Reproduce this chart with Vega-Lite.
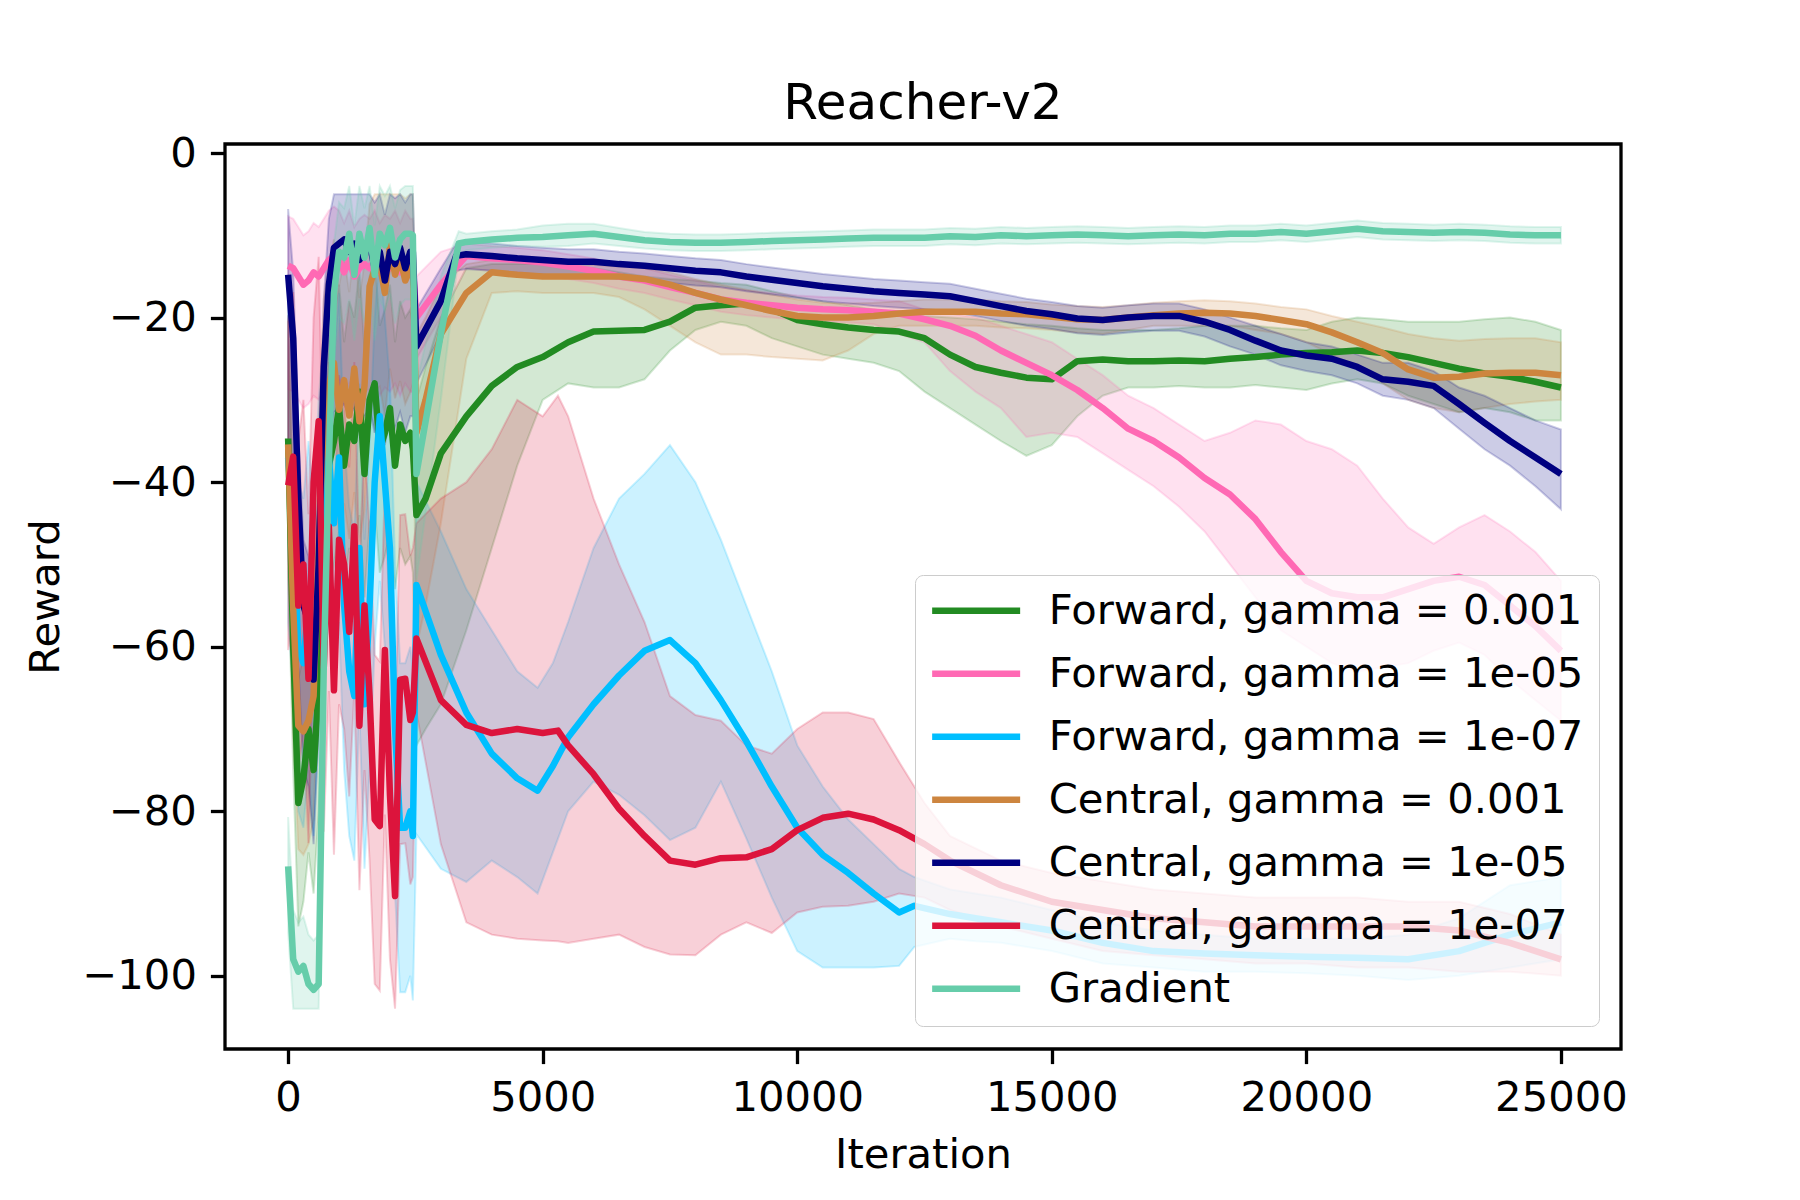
{
  "$schema": "https://vega.github.io/schema/vega-lite/v6.json",
  "width": 1396,
  "height": 905,
  "autosize": "none",
  "padding": {"left": 225, "top": 144, "right": 179, "bottom": 151},
  "background": "white",
  "title": {"text": "Reacher-v2", "fontSize": 50, "font": "DejaVu Sans", "fontWeight": "normal", "color": "black", "offset": 4, "anchor": "middle"},
  "data": {
    "values": [
      {"k":"F1","x":0,"y":-34.7,"lo":-49.7,"hi":-19.7},
      {"k":"F1","x":100,"y":-60,"lo":-75,"hi":-45},
      {"k":"F1","x":200,"y":-79,"lo":-94,"hi":-64},
      {"k":"F1","x":300,"y":-76,"lo":-91,"hi":-61},
      {"k":"F1","x":400,"y":-70,"lo":-85,"hi":-55},
      {"k":"F1","x":500,"y":-75,"lo":-90,"hi":-60},
      {"k":"F1","x":600,"y":-65,"lo":-80,"hi":-50},
      {"k":"F1","x":700,"y":-50,"lo":-65,"hi":-35},
      {"k":"F1","x":800,"y":-38,"lo":-53,"hi":-23},
      {"k":"F1","x":900,"y":-35,"lo":-50,"hi":-20},
      {"k":"F1","x":1000,"y":-31,"lo":-46,"hi":-16},
      {"k":"F1","x":1100,"y":-38,"lo":-53,"hi":-23},
      {"k":"F1","x":1200,"y":-33,"lo":-48,"hi":-18},
      {"k":"F1","x":1300,"y":-35,"lo":-50,"hi":-20},
      {"k":"F1","x":1400,"y":-29,"lo":-44,"hi":-14},
      {"k":"F1","x":1500,"y":-39,"lo":-54,"hi":-24},
      {"k":"F1","x":1600,"y":-30,"lo":-45,"hi":-15},
      {"k":"F1","x":1700,"y":-28,"lo":-43,"hi":-13},
      {"k":"F1","x":1800,"y":-36,"lo":-51,"hi":-21},
      {"k":"F1","x":1900,"y":-34,"lo":-49,"hi":-19},
      {"k":"F1","x":2000,"y":-31,"lo":-46,"hi":-16},
      {"k":"F1","x":2100,"y":-38,"lo":-53,"hi":-23},
      {"k":"F1","x":2200,"y":-33,"lo":-48,"hi":-18},
      {"k":"F1","x":2300,"y":-35,"lo":-50,"hi":-20},
      {"k":"F1","x":2400,"y":-34,"lo":-49,"hi":-19},
      {"k":"F1","x":2450,"y":-36,"lo":-51,"hi":-21},
      {"k":"F1","x":2520,"y":-44,"lo":-72,"hi":-30},
      {"k":"F1","x":2700,"y":-42,"lo":-70,"hi":-26},
      {"k":"F1","x":3000,"y":-36.5,"lo":-67,"hi":-20},
      {"k":"F1","x":3500,"y":-32,"lo":-58,"hi":-14},
      {"k":"F1","x":4000,"y":-28.3,"lo":-48,"hi":-13.5},
      {"k":"F1","x":4500,"y":-26,"lo":-38,"hi":-13.5},
      {"k":"F1","x":5000,"y":-24.8,"lo":-30,"hi":-13.5},
      {"k":"F1","x":5500,"y":-23,"lo":-28,"hi":-13.8},
      {"k":"F1","x":6000,"y":-21.7,"lo":-28.5,"hi":-14},
      {"k":"F1","x":6500,"y":-21.6,"lo":-28.5,"hi":-14.5},
      {"k":"F1","x":7000,"y":-21.5,"lo":-27.5,"hi":-15},
      {"k":"F1","x":7500,"y":-20.5,"lo":-24,"hi":-15.3},
      {"k":"F1","x":8000,"y":-18.8,"lo":-21.5,"hi":-15.5},
      {"k":"F1","x":8500,"y":-18.5,"lo":-20.5,"hi":-15.8},
      {"k":"F1","x":9000,"y":-18.3,"lo":-21,"hi":-16},
      {"k":"F1","x":9500,"y":-19,"lo":-22.5,"hi":-16.8},
      {"k":"F1","x":10000,"y":-20.3,"lo":-23.5,"hi":-17.5},
      {"k":"F1","x":10500,"y":-20.8,"lo":-24.5,"hi":-18},
      {"k":"F1","x":11000,"y":-21.2,"lo":-25,"hi":-18.5},
      {"k":"F1","x":11500,"y":-21.5,"lo":-25.5,"hi":-19},
      {"k":"F1","x":12000,"y":-21.7,"lo":-26.5,"hi":-19.5},
      {"k":"F1","x":12500,"y":-22.5,"lo":-29,"hi":-19.8},
      {"k":"F1","x":13000,"y":-24.5,"lo":-31,"hi":-20},
      {"k":"F1","x":13500,"y":-26,"lo":-33,"hi":-20.2},
      {"k":"F1","x":14000,"y":-26.7,"lo":-35,"hi":-20.5},
      {"k":"F1","x":14500,"y":-27.3,"lo":-36.8,"hi":-20.8},
      {"k":"F1","x":15000,"y":-27.5,"lo":-35.5,"hi":-21},
      {"k":"F1","x":15500,"y":-25.3,"lo":-32,"hi":-21.3},
      {"k":"F1","x":16000,"y":-25.1,"lo":-29.5,"hi":-21.5},
      {"k":"F1","x":16500,"y":-25.3,"lo":-28.5,"hi":-21.5},
      {"k":"F1","x":17000,"y":-25.3,"lo":-28.5,"hi":-21.5},
      {"k":"F1","x":17500,"y":-25.2,"lo":-28.3,"hi":-21.3},
      {"k":"F1","x":18000,"y":-25.3,"lo":-28.5,"hi":-21},
      {"k":"F1","x":18500,"y":-25,"lo":-28.5,"hi":-21},
      {"k":"F1","x":19000,"y":-24.8,"lo":-28.2,"hi":-21},
      {"k":"F1","x":19500,"y":-24.5,"lo":-28.5,"hi":-21.3},
      {"k":"F1","x":20000,"y":-24.3,"lo":-28.8,"hi":-21.5},
      {"k":"F1","x":20500,"y":-24.2,"lo":-28,"hi":-20.5},
      {"k":"F1","x":21000,"y":-24,"lo":-27.5,"hi":-20},
      {"k":"F1","x":21500,"y":-24.3,"lo":-28,"hi":-20.2},
      {"k":"F1","x":22000,"y":-24.8,"lo":-29.5,"hi":-20.5},
      {"k":"F1","x":22500,"y":-25.5,"lo":-30.5,"hi":-20.5},
      {"k":"F1","x":23000,"y":-26.2,"lo":-31.5,"hi":-20.5},
      {"k":"F1","x":23500,"y":-26.8,"lo":-31,"hi":-20.2},
      {"k":"F1","x":24000,"y":-27.2,"lo":-31.5,"hi":-20},
      {"k":"F1","x":24500,"y":-27.8,"lo":-32.5,"hi":-20.5},
      {"k":"F1","x":25000,"y":-28.5,"lo":-32.5,"hi":-21.5},

      {"k":"F2","x":0,"y":-13.7,"lo":-28.7,"hi":-7.7},
      {"k":"F2","x":100,"y":-14,"lo":-29,"hi":-8},
      {"k":"F2","x":200,"y":-15,"lo":-30,"hi":-9},
      {"k":"F2","x":300,"y":-16,"lo":-31,"hi":-10},
      {"k":"F2","x":400,"y":-15.5,"lo":-30.5,"hi":-9.5},
      {"k":"F2","x":500,"y":-14.5,"lo":-29.5,"hi":-8.5},
      {"k":"F2","x":600,"y":-15,"lo":-30,"hi":-9},
      {"k":"F2","x":700,"y":-14,"lo":-29,"hi":-8},
      {"k":"F2","x":800,"y":-13,"lo":-28,"hi":-7},
      {"k":"F2","x":900,"y":-12.5,"lo":-27.5,"hi":-6.5},
      {"k":"F2","x":1000,"y":-13,"lo":-28,"hi":-7},
      {"k":"F2","x":1100,"y":-14.5,"lo":-29.5,"hi":-8.5},
      {"k":"F2","x":1200,"y":-13,"lo":-28,"hi":-7},
      {"k":"F2","x":1300,"y":-15,"lo":-30,"hi":-9},
      {"k":"F2","x":1400,"y":-14,"lo":-29,"hi":-8},
      {"k":"F2","x":1500,"y":-13.5,"lo":-28.5,"hi":-7.5},
      {"k":"F2","x":1600,"y":-14,"lo":-29,"hi":-8},
      {"k":"F2","x":1700,"y":-13,"lo":-28,"hi":-7},
      {"k":"F2","x":1800,"y":-14.5,"lo":-29.5,"hi":-8.5},
      {"k":"F2","x":1900,"y":-13.5,"lo":-28.5,"hi":-7.5},
      {"k":"F2","x":2000,"y":-14,"lo":-29,"hi":-8},
      {"k":"F2","x":2100,"y":-13,"lo":-28,"hi":-7},
      {"k":"F2","x":2200,"y":-14.5,"lo":-29.5,"hi":-8.5},
      {"k":"F2","x":2300,"y":-13,"lo":-28,"hi":-7},
      {"k":"F2","x":2400,"y":-14,"lo":-29,"hi":-8},
      {"k":"F2","x":2450,"y":-14,"lo":-29,"hi":-8},
      {"k":"F2","x":2520,"y":-20,"lo":-25,"hi":-15},
      {"k":"F2","x":3000,"y":-16,"lo":-20,"hi":-12},
      {"k":"F2","x":3500,"y":-12.5,"lo":-14,"hi":-11},
      {"k":"F2","x":4000,"y":-12.8,"lo":-14.3,"hi":-11.3},
      {"k":"F2","x":4500,"y":-13,"lo":-14.5,"hi":-11.5},
      {"k":"F2","x":5000,"y":-13.3,"lo":-14.8,"hi":-11.8},
      {"k":"F2","x":5500,"y":-13.8,"lo":-15.3,"hi":-12.3},
      {"k":"F2","x":6000,"y":-14.3,"lo":-15.8,"hi":-12.8},
      {"k":"F2","x":6500,"y":-15,"lo":-16.5,"hi":-13.5},
      {"k":"F2","x":7000,"y":-15.5,"lo":-17,"hi":-14},
      {"k":"F2","x":7500,"y":-16.3,"lo":-17.8,"hi":-14.8},
      {"k":"F2","x":8000,"y":-17,"lo":-18.5,"hi":-15.5},
      {"k":"F2","x":8500,"y":-17.8,"lo":-19.3,"hi":-16.3},
      {"k":"F2","x":9000,"y":-18.2,"lo":-19.7,"hi":-16.7},
      {"k":"F2","x":9500,"y":-18.5,"lo":-20,"hi":-17},
      {"k":"F2","x":10000,"y":-18.8,"lo":-20.3,"hi":-17.3},
      {"k":"F2","x":10500,"y":-19,"lo":-20.5,"hi":-17.5},
      {"k":"F2","x":11000,"y":-19.1,"lo":-20.6,"hi":-17.6},
      {"k":"F2","x":11500,"y":-19.3,"lo":-20.8,"hi":-17.8},
      {"k":"F2","x":12000,"y":-19.5,"lo":-22,"hi":-18},
      {"k":"F2","x":12500,"y":-20.2,"lo":-23,"hi":-19},
      {"k":"F2","x":13000,"y":-21,"lo":-26.5,"hi":-19.5},
      {"k":"F2","x":13500,"y":-22.2,"lo":-29,"hi":-20},
      {"k":"F2","x":14000,"y":-24,"lo":-31,"hi":-21},
      {"k":"F2","x":14500,"y":-25.5,"lo":-34.5,"hi":-22},
      {"k":"F2","x":15000,"y":-27,"lo":-34,"hi":-23},
      {"k":"F2","x":15500,"y":-28.8,"lo":-34.5,"hi":-25},
      {"k":"F2","x":16000,"y":-31,"lo":-36.5,"hi":-27},
      {"k":"F2","x":16500,"y":-33.5,"lo":-38.5,"hi":-29.5},
      {"k":"F2","x":17000,"y":-35,"lo":-40.5,"hi":-31},
      {"k":"F2","x":17500,"y":-37,"lo":-43,"hi":-33},
      {"k":"F2","x":18000,"y":-39.5,"lo":-46,"hi":-35},
      {"k":"F2","x":18500,"y":-41.5,"lo":-50,"hi":-34},
      {"k":"F2","x":19000,"y":-44.5,"lo":-54,"hi":-32.5},
      {"k":"F2","x":19500,"y":-48.5,"lo":-58,"hi":-33},
      {"k":"F2","x":20000,"y":-52,"lo":-60,"hi":-35},
      {"k":"F2","x":20500,"y":-53.5,"lo":-62,"hi":-36},
      {"k":"F2","x":21000,"y":-54,"lo":-63,"hi":-38},
      {"k":"F2","x":21500,"y":-54,"lo":-62.5,"hi":-42},
      {"k":"F2","x":22000,"y":-53,"lo":-62,"hi":-45.5},
      {"k":"F2","x":22500,"y":-52,"lo":-60.5,"hi":-47.5},
      {"k":"F2","x":23000,"y":-51.5,"lo":-59.5,"hi":-45.5},
      {"k":"F2","x":23500,"y":-52.5,"lo":-61,"hi":-44},
      {"k":"F2","x":24000,"y":-55,"lo":-64,"hi":-46},
      {"k":"F2","x":24500,"y":-57.5,"lo":-66.5,"hi":-48.5},
      {"k":"F2","x":25000,"y":-60.5,"lo":-69,"hi":-52},

      {"k":"F3","x":0,"y":-37,"lo":-57,"hi":-17},
      {"k":"F3","x":100,"y":-45,"lo":-65,"hi":-25},
      {"k":"F3","x":200,"y":-60,"lo":-80,"hi":-40},
      {"k":"F3","x":300,"y":-62,"lo":-82,"hi":-42},
      {"k":"F3","x":400,"y":-55,"lo":-75,"hi":-35},
      {"k":"F3","x":500,"y":-63,"lo":-83,"hi":-43},
      {"k":"F3","x":600,"y":-50,"lo":-70,"hi":-30},
      {"k":"F3","x":700,"y":-42,"lo":-62,"hi":-22},
      {"k":"F3","x":800,"y":-37,"lo":-57,"hi":-17},
      {"k":"F3","x":900,"y":-45,"lo":-65,"hi":-25},
      {"k":"F3","x":1000,"y":-37,"lo":-57,"hi":-17},
      {"k":"F3","x":1100,"y":-55,"lo":-75,"hi":-35},
      {"k":"F3","x":1200,"y":-63,"lo":-83,"hi":-43},
      {"k":"F3","x":1300,"y":-66,"lo":-86,"hi":-46},
      {"k":"F3","x":1400,"y":-48,"lo":-68,"hi":-28},
      {"k":"F3","x":1500,"y":-67,"lo":-87,"hi":-47},
      {"k":"F3","x":1600,"y":-55,"lo":-75,"hi":-35},
      {"k":"F3","x":1700,"y":-40,"lo":-60,"hi":-20},
      {"k":"F3","x":1800,"y":-32,"lo":-52,"hi":-12},
      {"k":"F3","x":1900,"y":-40,"lo":-60,"hi":-20},
      {"k":"F3","x":2000,"y":-48,"lo":-68,"hi":-28},
      {"k":"F3","x":2100,"y":-70,"lo":-90,"hi":-50},
      {"k":"F3","x":2200,"y":-82,"lo":-102,"hi":-62},
      {"k":"F3","x":2300,"y":-82,"lo":-102,"hi":-62},
      {"k":"F3","x":2400,"y":-80,"lo":-100,"hi":-60},
      {"k":"F3","x":2450,"y":-83,"lo":-103,"hi":-63},
      {"k":"F3","x":2520,"y":-52.5,"lo":-82.8,"hi":-40},
      {"k":"F3","x":3000,"y":-61,"lo":-87,"hi":-46},
      {"k":"F3","x":3500,"y":-68,"lo":-88.6,"hi":-53},
      {"k":"F3","x":4000,"y":-73,"lo":-86,"hi":-58},
      {"k":"F3","x":4500,"y":-76,"lo":-88,"hi":-63},
      {"k":"F3","x":4900,"y":-77.5,"lo":-90,"hi":-65},
      {"k":"F3","x":5200,"y":-74.5,"lo":-85,"hi":-62},
      {"k":"F3","x":5500,"y":-71,"lo":-80,"hi":-57},
      {"k":"F3","x":6000,"y":-67,"lo":-76.4,"hi":-48},
      {"k":"F3","x":6500,"y":-63.5,"lo":-78,"hi":-42},
      {"k":"F3","x":7000,"y":-60.5,"lo":-80.5,"hi":-39},
      {"k":"F3","x":7500,"y":-59.2,"lo":-83.5,"hi":-35.5},
      {"k":"F3","x":8000,"y":-62,"lo":-82,"hi":-40},
      {"k":"F3","x":8500,"y":-66.5,"lo":-76.4,"hi":-47},
      {"k":"F3","x":9000,"y":-71.5,"lo":-83.3,"hi":-55},
      {"k":"F3","x":9500,"y":-77,"lo":-90.5,"hi":-63},
      {"k":"F3","x":10000,"y":-82,"lo":-97,"hi":-72},
      {"k":"F3","x":10500,"y":-85.3,"lo":-99,"hi":-77},
      {"k":"F3","x":11000,"y":-87.5,"lo":-99,"hi":-81},
      {"k":"F3","x":11500,"y":-90,"lo":-99,"hi":-84},
      {"k":"F3","x":12000,"y":-92.3,"lo":-98.8,"hi":-87},
      {"k":"F3","x":12300,"y":-91.5,"lo":-96.5,"hi":-88},
      {"k":"F3","x":13000,"y":-92.5,"lo":-95.5,"hi":-89.5},
      {"k":"F3","x":13500,"y":-93,"lo":-95.8,"hi":-90},
      {"k":"F3","x":14000,"y":-93.5,"lo":-96,"hi":-90.5},
      {"k":"F3","x":15000,"y":-94.5,"lo":-97,"hi":-92},
      {"k":"F3","x":16000,"y":-96,"lo":-98.5,"hi":-93.5},
      {"k":"F3","x":17000,"y":-97,"lo":-99,"hi":-94.5},
      {"k":"F3","x":18000,"y":-97.3,"lo":-99.5,"hi":-95},
      {"k":"F3","x":19000,"y":-97.5,"lo":-99.5,"hi":-95.5},
      {"k":"F3","x":20000,"y":-97.7,"lo":-99.7,"hi":-95.5},
      {"k":"F3","x":21000,"y":-97.8,"lo":-100,"hi":-95.5},
      {"k":"F3","x":22000,"y":-98,"lo":-100.5,"hi":-95},
      {"k":"F3","x":23000,"y":-97,"lo":-100,"hi":-93},
      {"k":"F3","x":24000,"y":-95,"lo":-99,"hi":-89},
      {"k":"F3","x":25000,"y":-93.5,"lo":-98,"hi":-88},

      {"k":"C1","x":0,"y":-35.4,"lo":-50.4,"hi":-20.4},
      {"k":"C1","x":100,"y":-55.4,"lo":-70.4,"hi":-40.4},
      {"k":"C1","x":200,"y":-69.6,"lo":-84.6,"hi":-54.6},
      {"k":"C1","x":300,"y":-70.3,"lo":-85.3,"hi":-55.3},
      {"k":"C1","x":400,"y":-69,"lo":-84,"hi":-54},
      {"k":"C1","x":500,"y":-66,"lo":-81,"hi":-51},
      {"k":"C1","x":600,"y":-48,"lo":-63,"hi":-33},
      {"k":"C1","x":700,"y":-32.6,"lo":-47.6,"hi":-17.6},
      {"k":"C1","x":800,"y":-28.3,"lo":-43.3,"hi":-13.3},
      {"k":"C1","x":900,"y":-25.5,"lo":-40.5,"hi":-10.5},
      {"k":"C1","x":1000,"y":-31.2,"lo":-46.2,"hi":-16.2},
      {"k":"C1","x":1100,"y":-27.6,"lo":-42.6,"hi":-12.6},
      {"k":"C1","x":1200,"y":-31.9,"lo":-46.9,"hi":-16.9},
      {"k":"C1","x":1300,"y":-26.2,"lo":-41.2,"hi":-11.2},
      {"k":"C1","x":1400,"y":-32.6,"lo":-47.6,"hi":-17.6},
      {"k":"C1","x":1500,"y":-28.3,"lo":-43.3,"hi":-13.3},
      {"k":"C1","x":1600,"y":-16.2,"lo":-31.2,"hi":-6.2},
      {"k":"C1","x":1700,"y":-14.1,"lo":-29.1,"hi":-5},
      {"k":"C1","x":1800,"y":-13.4,"lo":-28.4,"hi":-5},
      {"k":"C1","x":1900,"y":-17,"lo":-32,"hi":-5},
      {"k":"C1","x":2000,"y":-11.2,"lo":-26.2,"hi":-5},
      {"k":"C1","x":2100,"y":-14.8,"lo":-29.8,"hi":-5},
      {"k":"C1","x":2200,"y":-12.7,"lo":-27.7,"hi":-5},
      {"k":"C1","x":2300,"y":-15.5,"lo":-30.5,"hi":-5.5},
      {"k":"C1","x":2400,"y":-14.1,"lo":-29.1,"hi":-5},
      {"k":"C1","x":2450,"y":-13,"lo":-28,"hi":-5},
      {"k":"C1","x":2520,"y":-34,"lo":-60,"hi":-22},
      {"k":"C1","x":2700,"y":-30,"lo":-55,"hi":-20},
      {"k":"C1","x":3000,"y":-22,"lo":-45,"hi":-16},
      {"k":"C1","x":3500,"y":-17,"lo":-25,"hi":-13.5},
      {"k":"C1","x":4000,"y":-14.5,"lo":-17,"hi":-13},
      {"k":"C1","x":4500,"y":-14.8,"lo":-16.8,"hi":-13.2},
      {"k":"C1","x":5000,"y":-15,"lo":-17,"hi":-13.4},
      {"k":"C1","x":5500,"y":-15,"lo":-17,"hi":-13.5},
      {"k":"C1","x":6000,"y":-15,"lo":-17,"hi":-13.6},
      {"k":"C1","x":6500,"y":-15,"lo":-17.5,"hi":-13.8},
      {"k":"C1","x":7000,"y":-15.3,"lo":-19,"hi":-14},
      {"k":"C1","x":7500,"y":-16,"lo":-21,"hi":-14.5},
      {"k":"C1","x":8000,"y":-17,"lo":-23,"hi":-15.3},
      {"k":"C1","x":8500,"y":-17.8,"lo":-24.5,"hi":-16},
      {"k":"C1","x":9000,"y":-18.5,"lo":-24.5,"hi":-16.6},
      {"k":"C1","x":9500,"y":-19.2,"lo":-24.8,"hi":-17.2},
      {"k":"C1","x":10000,"y":-19.8,"lo":-25,"hi":-17.8},
      {"k":"C1","x":10500,"y":-20,"lo":-25.2,"hi":-18.2},
      {"k":"C1","x":11000,"y":-20,"lo":-24,"hi":-18.3},
      {"k":"C1","x":11500,"y":-19.8,"lo":-22,"hi":-18.2},
      {"k":"C1","x":12000,"y":-19.5,"lo":-21,"hi":-18},
      {"k":"C1","x":12500,"y":-19.3,"lo":-21,"hi":-17.8},
      {"k":"C1","x":13000,"y":-19.3,"lo":-21,"hi":-17.8},
      {"k":"C1","x":13500,"y":-19.3,"lo":-21,"hi":-17.8},
      {"k":"C1","x":14000,"y":-19.5,"lo":-21.2,"hi":-18},
      {"k":"C1","x":14500,"y":-19.6,"lo":-21.3,"hi":-18.1},
      {"k":"C1","x":15000,"y":-19.9,"lo":-21.5,"hi":-18.4},
      {"k":"C1","x":15500,"y":-20.2,"lo":-21.8,"hi":-18.6},
      {"k":"C1","x":16000,"y":-20.3,"lo":-22,"hi":-18.7},
      {"k":"C1","x":16500,"y":-20,"lo":-21.5,"hi":-18.5},
      {"k":"C1","x":17000,"y":-19.7,"lo":-21,"hi":-18.2},
      {"k":"C1","x":17500,"y":-19.5,"lo":-21,"hi":-18},
      {"k":"C1","x":18000,"y":-19.4,"lo":-21,"hi":-17.9},
      {"k":"C1","x":18500,"y":-19.5,"lo":-21,"hi":-18},
      {"k":"C1","x":19000,"y":-19.8,"lo":-21.5,"hi":-18.3},
      {"k":"C1","x":19500,"y":-20.3,"lo":-22,"hi":-18.7},
      {"k":"C1","x":20000,"y":-20.8,"lo":-23,"hi":-19},
      {"k":"C1","x":20500,"y":-21.8,"lo":-24.5,"hi":-19.8},
      {"k":"C1","x":21000,"y":-23,"lo":-26,"hi":-20.5},
      {"k":"C1","x":21500,"y":-24.3,"lo":-28,"hi":-21.2},
      {"k":"C1","x":22000,"y":-26.3,"lo":-30,"hi":-22},
      {"k":"C1","x":22500,"y":-27.3,"lo":-31,"hi":-22.5},
      {"k":"C1","x":23000,"y":-27.2,"lo":-31.5,"hi":-22.8},
      {"k":"C1","x":23500,"y":-26.8,"lo":-31,"hi":-22.6},
      {"k":"C1","x":24000,"y":-26.7,"lo":-30.5,"hi":-22.5},
      {"k":"C1","x":24500,"y":-26.7,"lo":-30.2,"hi":-22.5},
      {"k":"C1","x":25000,"y":-27,"lo":-30,"hi":-23},

      {"k":"C2","x":0,"y":-14.8,"lo":-34.8,"hi":-6.8},
      {"k":"C2","x":100,"y":-22.5,"lo":-42.5,"hi":-14.5},
      {"k":"C2","x":200,"y":-42,"lo":-62,"hi":-34},
      {"k":"C2","x":300,"y":-55,"lo":-75,"hi":-47},
      {"k":"C2","x":400,"y":-57,"lo":-77,"hi":-49},
      {"k":"C2","x":500,"y":-64,"lo":-84,"hi":-56},
      {"k":"C2","x":600,"y":-50,"lo":-70,"hi":-42},
      {"k":"C2","x":700,"y":-26,"lo":-46,"hi":-18},
      {"k":"C2","x":800,"y":-16,"lo":-36,"hi":-8},
      {"k":"C2","x":900,"y":-11.5,"lo":-31.5,"hi":-5},
      {"k":"C2","x":1000,"y":-11,"lo":-31,"hi":-5},
      {"k":"C2","x":1100,"y":-10.5,"lo":-30.5,"hi":-5},
      {"k":"C2","x":1200,"y":-12,"lo":-32,"hi":-5},
      {"k":"C2","x":1300,"y":-11,"lo":-31,"hi":-5},
      {"k":"C2","x":1400,"y":-13,"lo":-33,"hi":-5},
      {"k":"C2","x":1500,"y":-12,"lo":-32,"hi":-5},
      {"k":"C2","x":1600,"y":-11,"lo":-31,"hi":-5},
      {"k":"C2","x":1700,"y":-14,"lo":-34,"hi":-6},
      {"k":"C2","x":1800,"y":-12,"lo":-32,"hi":-5},
      {"k":"C2","x":1900,"y":-15.5,"lo":-35.5,"hi":-7.5},
      {"k":"C2","x":2000,"y":-12,"lo":-32,"hi":-5},
      {"k":"C2","x":2100,"y":-13.5,"lo":-33.5,"hi":-5.5},
      {"k":"C2","x":2200,"y":-11.5,"lo":-31.5,"hi":-5},
      {"k":"C2","x":2300,"y":-14,"lo":-34,"hi":-6},
      {"k":"C2","x":2400,"y":-12,"lo":-32,"hi":-5},
      {"k":"C2","x":2450,"y":-12,"lo":-32,"hi":-5},
      {"k":"C2","x":2520,"y":-23.5,"lo":-28,"hi":-19},
      {"k":"C2","x":3000,"y":-18,"lo":-22,"hi":-14},
      {"k":"C2","x":3300,"y":-12.5,"lo":-14.3,"hi":-11},
      {"k":"C2","x":3500,"y":-12.3,"lo":-14.1,"hi":-10.8},
      {"k":"C2","x":4000,"y":-12.5,"lo":-14.3,"hi":-11},
      {"k":"C2","x":4500,"y":-12.8,"lo":-14.6,"hi":-11.3},
      {"k":"C2","x":5000,"y":-13,"lo":-14.8,"hi":-11.5},
      {"k":"C2","x":5500,"y":-13.2,"lo":-15,"hi":-11.7},
      {"k":"C2","x":6000,"y":-13.2,"lo":-15,"hi":-11.7},
      {"k":"C2","x":6500,"y":-13.5,"lo":-15.3,"hi":-12},
      {"k":"C2","x":7000,"y":-13.7,"lo":-15.5,"hi":-12.2},
      {"k":"C2","x":7500,"y":-14,"lo":-15.8,"hi":-12.5},
      {"k":"C2","x":8000,"y":-14.3,"lo":-16.1,"hi":-12.8},
      {"k":"C2","x":8500,"y":-14.5,"lo":-16.3,"hi":-13},
      {"k":"C2","x":9000,"y":-15,"lo":-16.8,"hi":-13.5},
      {"k":"C2","x":9500,"y":-15.4,"lo":-17.2,"hi":-13.9},
      {"k":"C2","x":10000,"y":-15.8,"lo":-17.6,"hi":-14.3},
      {"k":"C2","x":10500,"y":-16.2,"lo":-18,"hi":-14.7},
      {"k":"C2","x":11000,"y":-16.5,"lo":-18.3,"hi":-15},
      {"k":"C2","x":11500,"y":-16.8,"lo":-18.6,"hi":-15.3},
      {"k":"C2","x":12000,"y":-17,"lo":-18.8,"hi":-15.5},
      {"k":"C2","x":12500,"y":-17.2,"lo":-19,"hi":-15.7},
      {"k":"C2","x":13000,"y":-17.4,"lo":-19.2,"hi":-15.9},
      {"k":"C2","x":13500,"y":-18,"lo":-19.8,"hi":-16.5},
      {"k":"C2","x":14000,"y":-18.6,"lo":-20.4,"hi":-17.1},
      {"k":"C2","x":14500,"y":-19.2,"lo":-21,"hi":-17.7},
      {"k":"C2","x":15000,"y":-19.6,"lo":-21.4,"hi":-18.1},
      {"k":"C2","x":15500,"y":-20.1,"lo":-21.9,"hi":-18.6},
      {"k":"C2","x":16000,"y":-20.3,"lo":-22.1,"hi":-18.8},
      {"k":"C2","x":16500,"y":-20,"lo":-21.8,"hi":-18.5},
      {"k":"C2","x":17000,"y":-19.8,"lo":-21.6,"hi":-18.3},
      {"k":"C2","x":17500,"y":-19.8,"lo":-21.6,"hi":-18.3},
      {"k":"C2","x":18000,"y":-20.5,"lo":-22.3,"hi":-19},
      {"k":"C2","x":18500,"y":-21.5,"lo":-23.5,"hi":-20},
      {"k":"C2","x":19000,"y":-22.8,"lo":-24.5,"hi":-21},
      {"k":"C2","x":19500,"y":-24,"lo":-25.8,"hi":-22},
      {"k":"C2","x":20000,"y":-24.6,"lo":-26.5,"hi":-23},
      {"k":"C2","x":20500,"y":-25,"lo":-27,"hi":-23.5},
      {"k":"C2","x":21000,"y":-26,"lo":-28,"hi":-24.5},
      {"k":"C2","x":21500,"y":-27.5,"lo":-29.5,"hi":-25.5},
      {"k":"C2","x":22000,"y":-27.8,"lo":-30,"hi":-25.5},
      {"k":"C2","x":22500,"y":-28.3,"lo":-31,"hi":-26.5},
      {"k":"C2","x":23000,"y":-30.5,"lo":-33.5,"hi":-28.5},
      {"k":"C2","x":23500,"y":-32.8,"lo":-36,"hi":-29.5},
      {"k":"C2","x":24000,"y":-35,"lo":-38,"hi":-31},
      {"k":"C2","x":24500,"y":-37,"lo":-40.5,"hi":-32.5},
      {"k":"C2","x":25000,"y":-39,"lo":-43.3,"hi":-33.6},

      {"k":"C3","x":0,"y":-40.4,"lo":-60.4,"hi":-20.4},
      {"k":"C3","x":100,"y":-36.9,"lo":-56.9,"hi":-16.9},
      {"k":"C3","x":200,"y":-55,"lo":-75,"hi":-35},
      {"k":"C3","x":300,"y":-50,"lo":-70,"hi":-30},
      {"k":"C3","x":400,"y":-63.9,"lo":-83.9,"hi":-43.9},
      {"k":"C3","x":500,"y":-40,"lo":-60,"hi":-20},
      {"k":"C3","x":600,"y":-32.6,"lo":-52.6,"hi":-12.6},
      {"k":"C3","x":700,"y":-62.5,"lo":-82.5,"hi":-42.5},
      {"k":"C3","x":800,"y":-45.4,"lo":-65.4,"hi":-25.4},
      {"k":"C3","x":900,"y":-65.3,"lo":-85.3,"hi":-45.3},
      {"k":"C3","x":1000,"y":-47,"lo":-67,"hi":-27},
      {"k":"C3","x":1100,"y":-50,"lo":-70,"hi":-30},
      {"k":"C3","x":1200,"y":-58.2,"lo":-78.2,"hi":-38.2},
      {"k":"C3","x":1300,"y":-45.4,"lo":-65.4,"hi":-25.4},
      {"k":"C3","x":1400,"y":-69.6,"lo":-89.6,"hi":-49.6},
      {"k":"C3","x":1500,"y":-55,"lo":-75,"hi":-35},
      {"k":"C3","x":1600,"y":-66,"lo":-86,"hi":-46},
      {"k":"C3","x":1700,"y":-81,"lo":-101,"hi":-61},
      {"k":"C3","x":1800,"y":-81.8,"lo":-101.8,"hi":-61.8},
      {"k":"C3","x":1900,"y":-60.4,"lo":-80.4,"hi":-40.4},
      {"k":"C3","x":2000,"y":-78,"lo":-98,"hi":-58},
      {"k":"C3","x":2100,"y":-90.3,"lo":-104,"hi":-70.3},
      {"k":"C3","x":2200,"y":-64,"lo":-84,"hi":-44},
      {"k":"C3","x":2300,"y":-63.9,"lo":-83.9,"hi":-43.9},
      {"k":"C3","x":2400,"y":-68.9,"lo":-88.9,"hi":-48.9},
      {"k":"C3","x":2450,"y":-68,"lo":-88,"hi":-48},
      {"k":"C3","x":2520,"y":-59,"lo":-68,"hi":-45},
      {"k":"C3","x":3000,"y":-66.5,"lo":-84,"hi":-42},
      {"k":"C3","x":3500,"y":-69.5,"lo":-93.5,"hi":-40},
      {"k":"C3","x":4000,"y":-70.5,"lo":-95,"hi":-36},
      {"k":"C3","x":4500,"y":-70,"lo":-95.5,"hi":-30},
      {"k":"C3","x":5000,"y":-70.5,"lo":-95.7,"hi":-32},
      {"k":"C3","x":5300,"y":-70.2,"lo":-95.8,"hi":-29.5},
      {"k":"C3","x":5500,"y":-72,"lo":-96,"hi":-32},
      {"k":"C3","x":6000,"y":-75.5,"lo":-95.5,"hi":-42},
      {"k":"C3","x":6500,"y":-79.7,"lo":-95,"hi":-50},
      {"k":"C3","x":7000,"y":-83,"lo":-96.5,"hi":-57},
      {"k":"C3","x":7500,"y":-86,"lo":-97.4,"hi":-66},
      {"k":"C3","x":8000,"y":-86.5,"lo":-97.5,"hi":-68.3},
      {"k":"C3","x":8500,"y":-85.7,"lo":-95,"hi":-69},
      {"k":"C3","x":9000,"y":-85.6,"lo":-93.5,"hi":-72},
      {"k":"C3","x":9500,"y":-84.6,"lo":-94.8,"hi":-73},
      {"k":"C3","x":10000,"y":-82.3,"lo":-92.3,"hi":-70},
      {"k":"C3","x":10500,"y":-80.8,"lo":-91.6,"hi":-68},
      {"k":"C3","x":11000,"y":-80.3,"lo":-91.5,"hi":-68},
      {"k":"C3","x":11500,"y":-81,"lo":-91,"hi":-68.8},
      {"k":"C3","x":12000,"y":-82.3,"lo":-90,"hi":-74},
      {"k":"C3","x":12500,"y":-84,"lo":-90.5,"hi":-79},
      {"k":"C3","x":13000,"y":-86,"lo":-92,"hi":-83},
      {"k":"C3","x":14000,"y":-89,"lo":-94,"hi":-86},
      {"k":"C3","x":15000,"y":-91,"lo":-95.5,"hi":-87.5},
      {"k":"C3","x":16000,"y":-92,"lo":-97,"hi":-88.5},
      {"k":"C3","x":17000,"y":-93,"lo":-97.5,"hi":-89.5},
      {"k":"C3","x":18000,"y":-93.5,"lo":-98,"hi":-90},
      {"k":"C3","x":19000,"y":-94,"lo":-98.5,"hi":-90.5},
      {"k":"C3","x":20000,"y":-94,"lo":-98.5,"hi":-90.5},
      {"k":"C3","x":21000,"y":-94,"lo":-99,"hi":-90.5},
      {"k":"C3","x":22000,"y":-94,"lo":-99,"hi":-91},
      {"k":"C3","x":23000,"y":-94.5,"lo":-99.5,"hi":-91},
      {"k":"C3","x":24000,"y":-96,"lo":-99.5,"hi":-92.5},
      {"k":"C3","x":25000,"y":-98,"lo":-100,"hi":-95},

      {"k":"G","x":0,"y":-86.7,"lo":-94.7,"hi":-80.7},
      {"k":"G","x":100,"y":-98,"lo":-104,"hi":-92},
      {"k":"G","x":200,"y":-99.5,"lo":-104,"hi":-93.5},
      {"k":"G","x":300,"y":-98.8,"lo":-104,"hi":-92.8},
      {"k":"G","x":400,"y":-101,"lo":-104,"hi":-95},
      {"k":"G","x":500,"y":-101.7,"lo":-104,"hi":-95.7},
      {"k":"G","x":600,"y":-101,"lo":-104,"hi":-95},
      {"k":"G","x":700,"y":-62.5,"lo":-70.5,"hi":-56.5},
      {"k":"G","x":800,"y":-37.6,"lo":-45.6,"hi":-31.6},
      {"k":"G","x":900,"y":-17,"lo":-25,"hi":-11},
      {"k":"G","x":1000,"y":-12,"lo":-20,"hi":-6},
      {"k":"G","x":1100,"y":-12.7,"lo":-20.7,"hi":-6.7},
      {"k":"G","x":1200,"y":-9.8,"lo":-17.8,"hi":-4},
      {"k":"G","x":1300,"y":-14.8,"lo":-22.8,"hi":-8.8},
      {"k":"G","x":1400,"y":-9.8,"lo":-17.8,"hi":-4},
      {"k":"G","x":1500,"y":-12.7,"lo":-20.7,"hi":-6.7},
      {"k":"G","x":1600,"y":-9.1,"lo":-17.1,"hi":-4},
      {"k":"G","x":1700,"y":-14.8,"lo":-22.8,"hi":-8.8},
      {"k":"G","x":1800,"y":-9.8,"lo":-17.8,"hi":-4},
      {"k":"G","x":1900,"y":-11.2,"lo":-19.2,"hi":-5.2},
      {"k":"G","x":2000,"y":-9.1,"lo":-17.1,"hi":-4},
      {"k":"G","x":2100,"y":-12.7,"lo":-20.7,"hi":-6.7},
      {"k":"G","x":2200,"y":-10.5,"lo":-18.5,"hi":-4.5},
      {"k":"G","x":2300,"y":-9.8,"lo":-17.8,"hi":-4},
      {"k":"G","x":2400,"y":-9.8,"lo":-17.8,"hi":-4},
      {"k":"G","x":2450,"y":-10,"lo":-18,"hi":-4},
      {"k":"G","x":2520,"y":-39,"lo":-52,"hi":-28},
      {"k":"G","x":3000,"y":-22,"lo":-30,"hi":-15},
      {"k":"G","x":3350,"y":-11,"lo":-12.5,"hi":-9.5},
      {"k":"G","x":3500,"y":-10.8,"lo":-11.8,"hi":-9.8},
      {"k":"G","x":4000,"y":-10.5,"lo":-11.5,"hi":-9.5},
      {"k":"G","x":4500,"y":-10.3,"lo":-11.3,"hi":-9.3},
      {"k":"G","x":5000,"y":-10.2,"lo":-11.4,"hi":-8.8},
      {"k":"G","x":5500,"y":-10,"lo":-11.3,"hi":-8.6},
      {"k":"G","x":6000,"y":-9.8,"lo":-11,"hi":-8.6},
      {"k":"G","x":6500,"y":-10.2,"lo":-11.3,"hi":-9.1},
      {"k":"G","x":7000,"y":-10.6,"lo":-11.6,"hi":-9.6},
      {"k":"G","x":7500,"y":-10.8,"lo":-11.8,"hi":-9.8},
      {"k":"G","x":8000,"y":-10.9,"lo":-11.9,"hi":-9.9},
      {"k":"G","x":8500,"y":-10.9,"lo":-11.9,"hi":-9.9},
      {"k":"G","x":9000,"y":-10.8,"lo":-11.8,"hi":-9.8},
      {"k":"G","x":9500,"y":-10.7,"lo":-11.7,"hi":-9.7},
      {"k":"G","x":10000,"y":-10.6,"lo":-11.6,"hi":-9.6},
      {"k":"G","x":10500,"y":-10.5,"lo":-11.5,"hi":-9.5},
      {"k":"G","x":11000,"y":-10.4,"lo":-11.4,"hi":-9.4},
      {"k":"G","x":11500,"y":-10.3,"lo":-11.3,"hi":-9.3},
      {"k":"G","x":12000,"y":-10.3,"lo":-11.3,"hi":-9.3},
      {"k":"G","x":12500,"y":-10.3,"lo":-11.3,"hi":-9.3},
      {"k":"G","x":13000,"y":-10.1,"lo":-11.1,"hi":-9.1},
      {"k":"G","x":13500,"y":-10.2,"lo":-11.2,"hi":-9.2},
      {"k":"G","x":14000,"y":-10,"lo":-11,"hi":-9},
      {"k":"G","x":14500,"y":-10.1,"lo":-11.1,"hi":-9.1},
      {"k":"G","x":15000,"y":-10,"lo":-11,"hi":-9},
      {"k":"G","x":15500,"y":-9.9,"lo":-10.9,"hi":-8.9},
      {"k":"G","x":16000,"y":-10,"lo":-11,"hi":-9},
      {"k":"G","x":16500,"y":-10.1,"lo":-11.1,"hi":-9.1},
      {"k":"G","x":17000,"y":-10,"lo":-11,"hi":-9},
      {"k":"G","x":17500,"y":-9.9,"lo":-10.9,"hi":-8.9},
      {"k":"G","x":18000,"y":-10,"lo":-11,"hi":-9},
      {"k":"G","x":18500,"y":-9.8,"lo":-10.8,"hi":-8.8},
      {"k":"G","x":19000,"y":-9.8,"lo":-10.8,"hi":-8.8},
      {"k":"G","x":19500,"y":-9.6,"lo":-10.6,"hi":-8.6},
      {"k":"G","x":20000,"y":-9.8,"lo":-10.8,"hi":-8.8},
      {"k":"G","x":20500,"y":-9.5,"lo":-10.5,"hi":-8.5},
      {"k":"G","x":21000,"y":-9.2,"lo":-10.2,"hi":-8.2},
      {"k":"G","x":21500,"y":-9.5,"lo":-10.5,"hi":-8.5},
      {"k":"G","x":22000,"y":-9.6,"lo":-10.6,"hi":-8.6},
      {"k":"G","x":22500,"y":-9.7,"lo":-10.7,"hi":-8.7},
      {"k":"G","x":23000,"y":-9.6,"lo":-10.6,"hi":-8.6},
      {"k":"G","x":23500,"y":-9.7,"lo":-10.7,"hi":-8.7},
      {"k":"G","x":24000,"y":-9.9,"lo":-10.9,"hi":-8.9},
      {"k":"G","x":24500,"y":-10,"lo":-11,"hi":-9},
      {"k":"G","x":25000,"y":-10,"lo":-11,"hi":-9}
    ]
  },
  "transform": [
    {
      "lookup": "k",
      "from": {
        "data": {
          "values": [
            {"k": "F1", "name": "Forward, gamma = 0.001"},
            {"k": "F2", "name": "Forward, gamma = 1e-05"},
            {"k": "F3", "name": "Forward, gamma = 1e-07"},
            {"k": "C1", "name": "Central, gamma = 0.001"},
            {"k": "C2", "name": "Central, gamma = 1e-05"},
            {"k": "C3", "name": "Central, gamma = 1e-07"},
            {"k": "G", "name": "Gradient"}
          ]
        },
        "key": "k",
        "fields": ["name"]
      }
    }
  ],
  "encoding": {
    "x": {
      "field": "x",
      "type": "quantitative",
      "scale": {"domain": [-1240, 26180], "nice": false, "zero": false},
      "axis": {"title": "Iteration", "values": [0, 5000, 10000, 15000, 20000, 25000], "format": "d", "labelFlush": false}
    },
    "color": {
      "field": "name",
      "type": "nominal",
      "scale": {
        "domain": ["Forward, gamma = 0.001", "Forward, gamma = 1e-05", "Forward, gamma = 1e-07", "Central, gamma = 0.001", "Central, gamma = 1e-05", "Central, gamma = 1e-07", "Gradient"],
        "range": ["#228b22", "#ff69b4", "#00bfff", "#cd853f", "#000080", "#dc143c", "#66cdaa"]
      },
      "legend": {
        "orient": "none",
        "legendX": 690,
        "legendY": 431,
        "title": null,
        "symbolType": "M-1.7,0H6.3",
        "symbolSize": 484,
        "symbolStrokeWidth": 6.5,
        "symbolOpacity": 1,
        "labelFontSize": 41.7,
        "labelFont": "DejaVu Sans",
        "labelColor": "black",
        "labelLimit": 1000,
        "labelOffset": 77,
        "rowPadding": 20,
        "padding": 15,
        "fillColor": "rgba(255,255,255,0.8)",
        "strokeColor": "#cccccc",
        "cornerRadius": 8
      }
    }
  },
  "layer": [
    {
      "mark": {"type": "area", "fillOpacity": 0.2, "strokeOpacity": 0.2, "strokeWidth": 2},
      "encoding": {
        "y": {
          "field": "lo",
          "type": "quantitative",
          "scale": {"domain": [-108.9, 1.1], "nice": false, "zero": false},
          "axis": {"title": "Reward", "values": [0, -20, -40, -60, -80, -100]}
        },
        "y2": {"field": "hi"},
        "stroke": {
          "field": "name",
          "type": "nominal",
          "scale": {
            "domain": ["Forward, gamma = 0.001", "Forward, gamma = 1e-05", "Forward, gamma = 1e-07", "Central, gamma = 0.001", "Central, gamma = 1e-05", "Central, gamma = 1e-07", "Gradient"],
            "range": ["#228b22", "#ff69b4", "#00bfff", "#cd853f", "#000080", "#dc143c", "#66cdaa"]
          },
          "legend": null
        }
      }
    },
    {
      "mark": {"type": "line", "strokeWidth": 6.5, "strokeJoin": "round"},
      "encoding": {
        "y": {
          "field": "y",
          "type": "quantitative",
          "scale": {"domain": [-108.9, 1.1], "nice": false, "zero": false},
          "axis": {"title": "Reward", "values": [0, -20, -40, -60, -80, -100]}
        }
      }
    }
  ],
  "config": {
    "font": "DejaVu Sans",
    "view": {"stroke": "black", "strokeWidth": 3.3},
    "axis": {
      "domain": false,
      "grid": false,
      "ticks": true,
      "tickColor": "black",
      "tickWidth": 3.3,
      "tickSize": 14.6,
      "labelFont": "DejaVu Sans",
      "labelFontSize": 41.7,
      "labelColor": "black",
      "labelPadding": 14,
      "labelOverlap": false,
      "titleFont": "DejaVu Sans",
      "titleFontSize": 41.7,
      "titleFontWeight": "normal",
      "titleColor": "black"
    },
    "axisX": {"titlePadding": 15},
    "axisY": {"titlePadding": 14}
  }
}
